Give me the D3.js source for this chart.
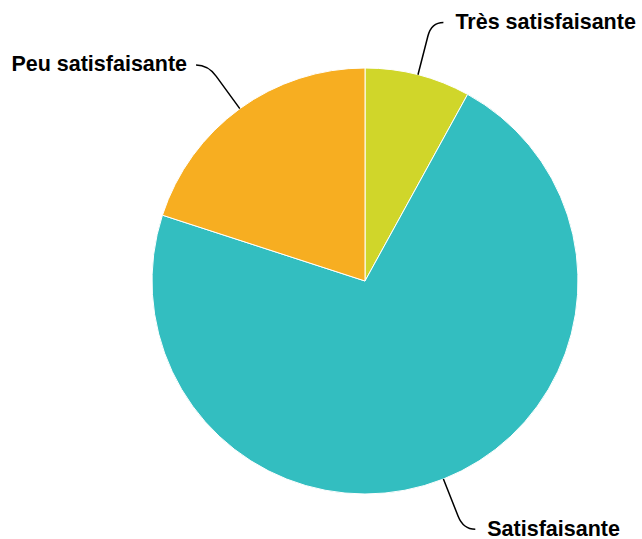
<!DOCTYPE html>
<html>
<head>
<meta charset="utf-8">
<script src="https://cdn.jsdelivr.net/npm/d3@7"></script>
<style>
  body { margin: 0; background: #fff; }
  svg { display: block; }
</style>
</head>
<body>
<div class="chart"></div>
<script>
const categories = ["Très satisfaisante", "Satisfaisante", "Peu satisfaisante"];
const values = [8, 72, 20];
const colors = ["#d0d62a", "#33bec0", "#f7ae21"];

const width = 642, height = 539;
const cx = 365, cy = 281, radius = 213;

const svg = d3.select(".chart").append("svg")
    .attr("width", width)
    .attr("height", height);

const g = svg.append("g").attr("transform", `translate(${cx},${cy})`);

const pie = d3.pie().sort(null).value(d => d.value);
const arc = d3.arc().innerRadius(0).outerRadius(radius);

const data = pie(categories.map((c, i) => ({ name: c, value: values[i], color: colors[i] })));

g.selectAll("path.slice").data(data).enter()
    .append("path")
        .attr("class", "slice")
        .attr("d", arc)
        .attr("fill", d => d.data.color)
        .attr("stroke", "#fff")
        .attr("stroke-width", 1);

// point on a ray at a given radius
function pt(a, r) { return [r * Math.sin(a), -r * Math.cos(a)]; }

data.forEach(d => {
    const a = (d.startAngle + d.endAngle) / 2;
    const right = Math.sin(a) >= 0;
    const p0 = pt(a, radius);
    const p1 = pt(a, radius + 40);
    const p2 = pt(a, radius + 54);
    const end = [p2[0] + (right ? 12 : -12), p2[1]];

    g.append("path")
        .attr("d", `M${p0}L${p1}Q${p2} ${end}`)
        .attr("fill", "none")
        .attr("stroke", "#000")
        .attr("stroke-width", 1.5);

    g.append("text")
        .attr("x", end[0] + (right ? 12 : -9))
        .attr("y", end[1])
        .attr("dy", "0.3em")
        .attr("text-anchor", right ? "start" : "end")
        .style("font-family", "'Liberation Sans', Arial, sans-serif")
        .style("font-weight", "bold")
        .style("font-size", "21.5px")
        .attr("fill", "#000")
        .text(d.data.name);
});
</script>
</body>
</html>
